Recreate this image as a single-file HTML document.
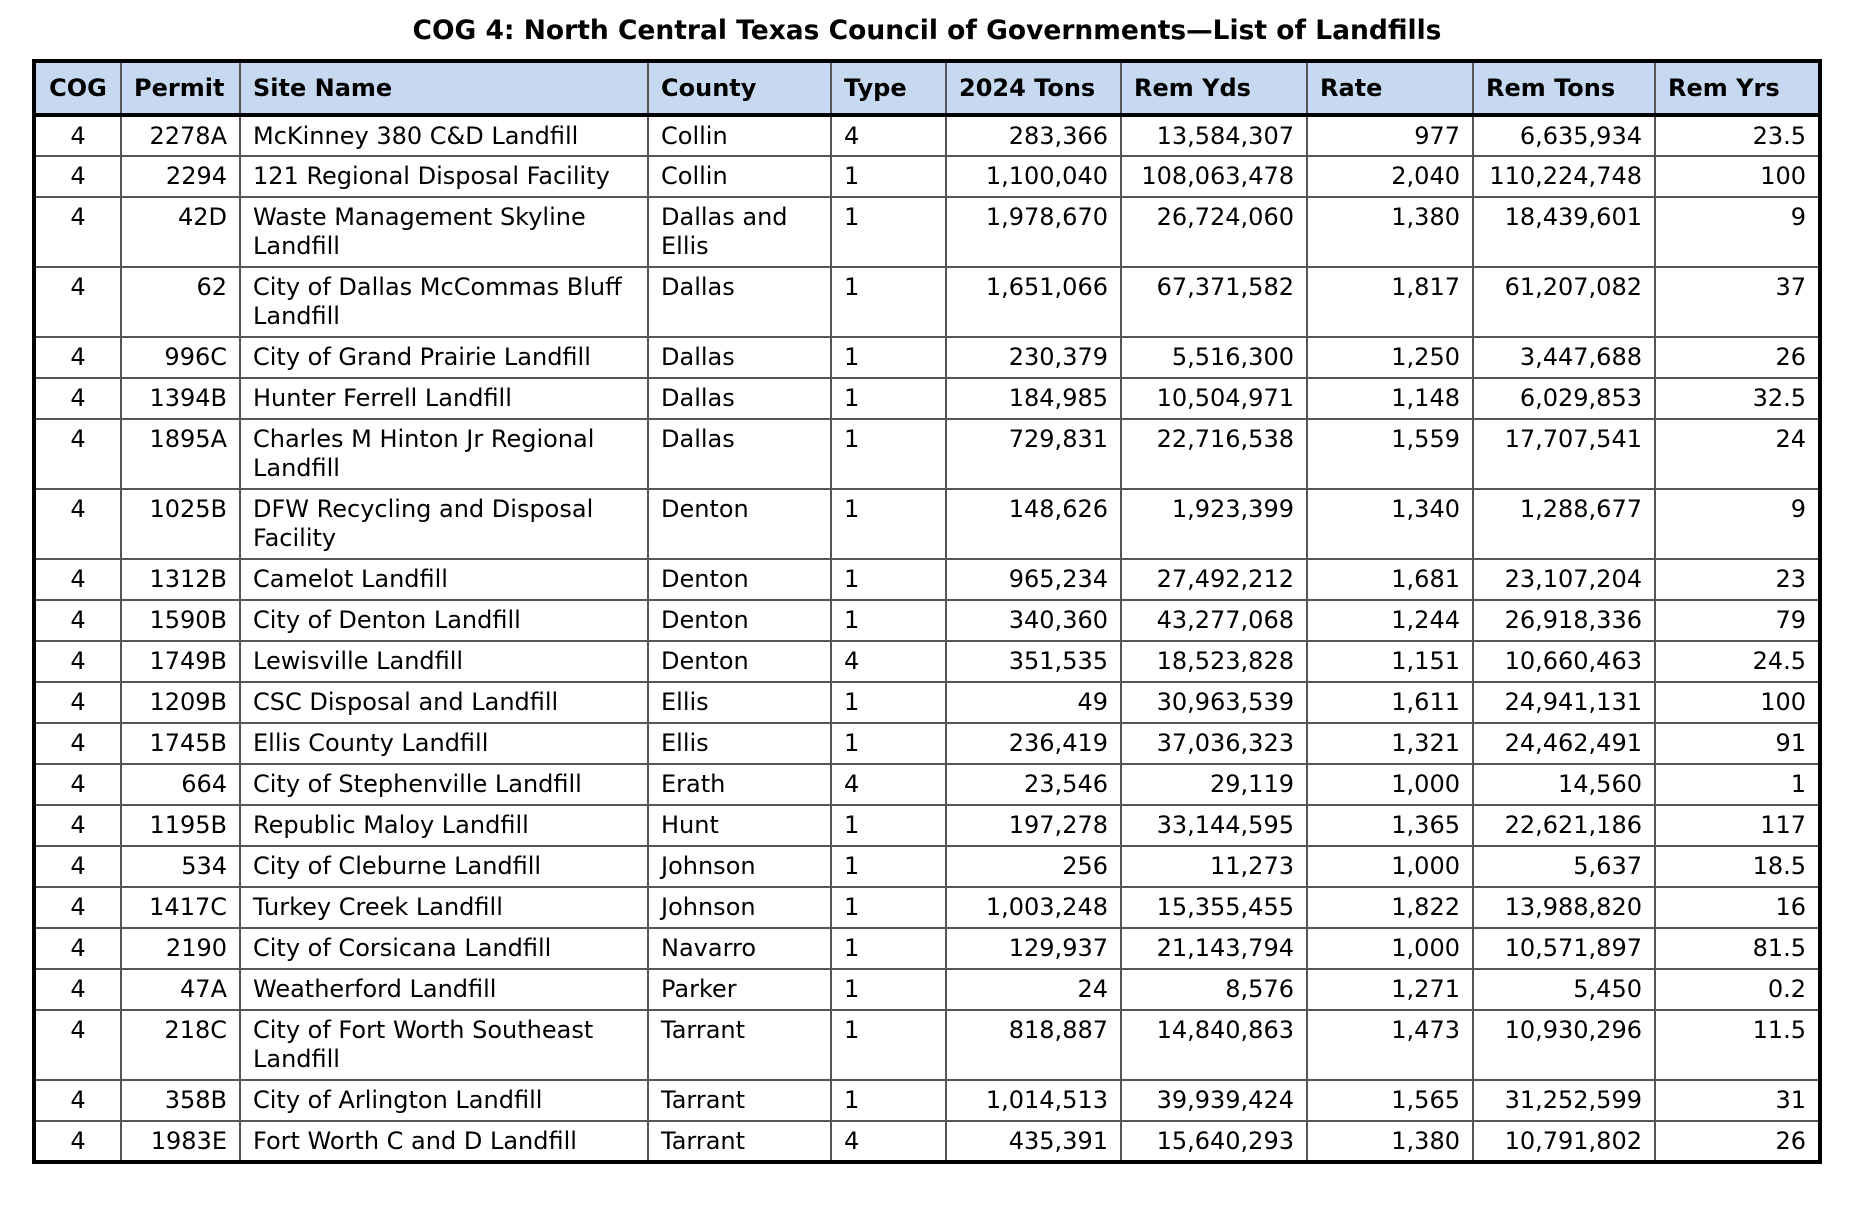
<!DOCTYPE html>
<html><head><meta charset="utf-8"><style>
body{margin:0;width:1854px;height:1210px;background:#fff;font-family:"DejaVu Sans","Liberation Sans",sans-serif;color:#000;}
h1{position:absolute;left:0;width:1854px;top:15px;margin:0;text-align:center;font-size:26.5px;font-weight:bold;line-height:32px;}
table{position:absolute;left:32px;top:59px;border-collapse:collapse;border:4px solid #000;font-size:24px;table-layout:fixed;}
td,th{border:2px solid #555;padding:0 12px;vertical-align:top;line-height:29px;white-space:normal;overflow:hidden;}
th{background:#c6d9f0;text-align:left;height:50px;vertical-align:middle;border-bottom:4px solid #000;font-weight:bold;font-size:24px;}
td{padding-top:5px;box-sizing:border-box;}
tr.d td{height:70px;}
tr td{height:41px;}
.c{text-align:center}.r{text-align:right}
th.c{text-align:center}
</style></head><body>
<h1>COG 4: North Central Texas Council of Governments—List of Landfills</h1>
<table>
<colgroup><col style="width:87px"><col style="width:119px"><col style="width:408px"><col style="width:183px"><col style="width:115px"><col style="width:175px"><col style="width:186px"><col style="width:166px"><col style="width:182px"><col style="width:165px"></colgroup>
<tr><th class="c">COG</th><th>Permit</th><th>Site Name</th><th>County</th><th>Type</th><th>2024 Tons</th><th>Rem Yds</th><th>Rate</th><th>Rem Tons</th><th>Rem Yrs</th></tr>
<tr><td class="c">4</td><td class="r">2278A</td><td>McKinney 380 C&amp;D Landfill</td><td>Collin</td><td>4</td><td class="r">283,366</td><td class="r">13,584,307</td><td class="r">977</td><td class="r">6,635,934</td><td class="r">23.5</td></tr>
<tr><td class="c">4</td><td class="r">2294</td><td>121 Regional Disposal Facility</td><td>Collin</td><td>1</td><td class="r">1,100,040</td><td class="r">108,063,478</td><td class="r">2,040</td><td class="r">110,224,748</td><td class="r">100</td></tr>
<tr class="d"><td class="c">4</td><td class="r">42D</td><td>Waste Management Skyline<br>Landfill</td><td>Dallas and<br>Ellis</td><td>1</td><td class="r">1,978,670</td><td class="r">26,724,060</td><td class="r">1,380</td><td class="r">18,439,601</td><td class="r">9</td></tr>
<tr class="d"><td class="c">4</td><td class="r">62</td><td>City of Dallas McCommas Bluff<br>Landfill</td><td>Dallas</td><td>1</td><td class="r">1,651,066</td><td class="r">67,371,582</td><td class="r">1,817</td><td class="r">61,207,082</td><td class="r">37</td></tr>
<tr><td class="c">4</td><td class="r">996C</td><td>City of Grand Prairie Landfill</td><td>Dallas</td><td>1</td><td class="r">230,379</td><td class="r">5,516,300</td><td class="r">1,250</td><td class="r">3,447,688</td><td class="r">26</td></tr>
<tr><td class="c">4</td><td class="r">1394B</td><td>Hunter Ferrell Landfill</td><td>Dallas</td><td>1</td><td class="r">184,985</td><td class="r">10,504,971</td><td class="r">1,148</td><td class="r">6,029,853</td><td class="r">32.5</td></tr>
<tr class="d"><td class="c">4</td><td class="r">1895A</td><td>Charles M Hinton Jr Regional<br>Landfill</td><td>Dallas</td><td>1</td><td class="r">729,831</td><td class="r">22,716,538</td><td class="r">1,559</td><td class="r">17,707,541</td><td class="r">24</td></tr>
<tr class="d"><td class="c">4</td><td class="r">1025B</td><td>DFW Recycling and Disposal<br>Facility</td><td>Denton</td><td>1</td><td class="r">148,626</td><td class="r">1,923,399</td><td class="r">1,340</td><td class="r">1,288,677</td><td class="r">9</td></tr>
<tr><td class="c">4</td><td class="r">1312B</td><td>Camelot Landfill</td><td>Denton</td><td>1</td><td class="r">965,234</td><td class="r">27,492,212</td><td class="r">1,681</td><td class="r">23,107,204</td><td class="r">23</td></tr>
<tr><td class="c">4</td><td class="r">1590B</td><td>City of Denton Landfill</td><td>Denton</td><td>1</td><td class="r">340,360</td><td class="r">43,277,068</td><td class="r">1,244</td><td class="r">26,918,336</td><td class="r">79</td></tr>
<tr><td class="c">4</td><td class="r">1749B</td><td>Lewisville Landfill</td><td>Denton</td><td>4</td><td class="r">351,535</td><td class="r">18,523,828</td><td class="r">1,151</td><td class="r">10,660,463</td><td class="r">24.5</td></tr>
<tr><td class="c">4</td><td class="r">1209B</td><td>CSC Disposal and Landfill</td><td>Ellis</td><td>1</td><td class="r">49</td><td class="r">30,963,539</td><td class="r">1,611</td><td class="r">24,941,131</td><td class="r">100</td></tr>
<tr><td class="c">4</td><td class="r">1745B</td><td>Ellis County Landfill</td><td>Ellis</td><td>1</td><td class="r">236,419</td><td class="r">37,036,323</td><td class="r">1,321</td><td class="r">24,462,491</td><td class="r">91</td></tr>
<tr><td class="c">4</td><td class="r">664</td><td>City of Stephenville Landfill</td><td>Erath</td><td>4</td><td class="r">23,546</td><td class="r">29,119</td><td class="r">1,000</td><td class="r">14,560</td><td class="r">1</td></tr>
<tr><td class="c">4</td><td class="r">1195B</td><td>Republic Maloy Landfill</td><td>Hunt</td><td>1</td><td class="r">197,278</td><td class="r">33,144,595</td><td class="r">1,365</td><td class="r">22,621,186</td><td class="r">117</td></tr>
<tr><td class="c">4</td><td class="r">534</td><td>City of Cleburne Landfill</td><td>Johnson</td><td>1</td><td class="r">256</td><td class="r">11,273</td><td class="r">1,000</td><td class="r">5,637</td><td class="r">18.5</td></tr>
<tr><td class="c">4</td><td class="r">1417C</td><td>Turkey Creek Landfill</td><td>Johnson</td><td>1</td><td class="r">1,003,248</td><td class="r">15,355,455</td><td class="r">1,822</td><td class="r">13,988,820</td><td class="r">16</td></tr>
<tr><td class="c">4</td><td class="r">2190</td><td>City of Corsicana Landfill</td><td>Navarro</td><td>1</td><td class="r">129,937</td><td class="r">21,143,794</td><td class="r">1,000</td><td class="r">10,571,897</td><td class="r">81.5</td></tr>
<tr><td class="c">4</td><td class="r">47A</td><td>Weatherford Landfill</td><td>Parker</td><td>1</td><td class="r">24</td><td class="r">8,576</td><td class="r">1,271</td><td class="r">5,450</td><td class="r">0.2</td></tr>
<tr class="d"><td class="c">4</td><td class="r">218C</td><td>City of Fort Worth Southeast<br>Landfill</td><td>Tarrant</td><td>1</td><td class="r">818,887</td><td class="r">14,840,863</td><td class="r">1,473</td><td class="r">10,930,296</td><td class="r">11.5</td></tr>
<tr><td class="c">4</td><td class="r">358B</td><td>City of Arlington Landfill</td><td>Tarrant</td><td>1</td><td class="r">1,014,513</td><td class="r">39,939,424</td><td class="r">1,565</td><td class="r">31,252,599</td><td class="r">31</td></tr>
<tr><td class="c">4</td><td class="r">1983E</td><td>Fort Worth C and D Landfill</td><td>Tarrant</td><td>4</td><td class="r">435,391</td><td class="r">15,640,293</td><td class="r">1,380</td><td class="r">10,791,802</td><td class="r">26</td></tr>
</table>
</body></html>
